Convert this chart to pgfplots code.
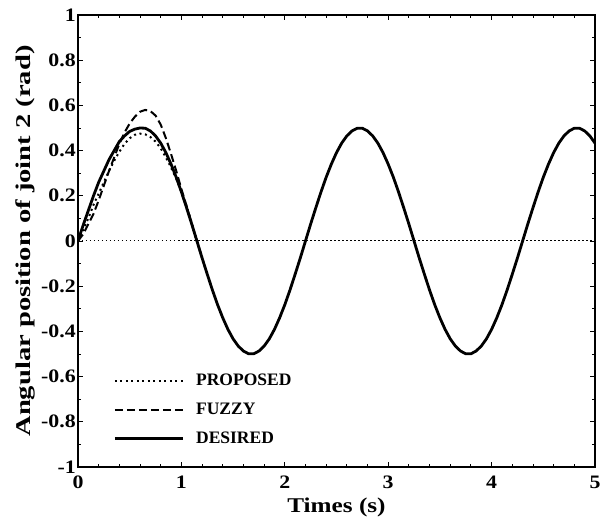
\documentclass[border=0pt]{standalone}
\usepackage{pgfplots}
\pgfplotsset{compat=1.18}
\usepackage{fontspec}
\setmainfont{Liberation Serif}
\newfontfamily\tickfont{Liberation Serif}[FakeStretch=1.15]
\newfontfamily\xlabfont{Liberation Serif}[FakeStretch=1.2]
\newfontfamily\ylabfont{Liberation Serif}[FakeStretch=1.36]

% desired trajectory
\pgfplotstableread{
t y
0.00 0.000
0.05 0.070
0.10 0.135
0.15 0.200
0.20 0.260
0.25 0.310
0.30 0.360
0.35 0.400
0.40 0.440
0.45 0.465
0.50 0.485
0.55 0.495
0.60 0.500
0.65 0.499
0.70 0.487
0.75 0.465
0.80 0.433
0.85 0.391
0.90 0.340
0.95 0.282
1.00 0.217
1.05 0.147
1.10 0.075
1.15 0.000
1.20 -0.075
1.25 -0.147
1.30 -0.217
1.35 -0.282
1.40 -0.340
1.45 -0.391
1.50 -0.433
1.55 -0.465
1.60 -0.487
1.65 -0.499
1.70 -0.499
1.75 -0.487
1.80 -0.465
1.85 -0.433
1.90 -0.391
1.95 -0.340
2.00 -0.282
2.05 -0.217
2.10 -0.147
2.15 -0.075
2.20 0.000
2.25 0.075
2.30 0.147
2.35 0.217
2.40 0.282
2.45 0.340
2.50 0.391
2.55 0.433
2.60 0.465
2.65 0.487
2.70 0.499
2.75 0.499
2.80 0.487
2.85 0.465
2.90 0.433
2.95 0.391
3.00 0.340
3.05 0.282
3.10 0.217
3.15 0.147
3.20 0.075
3.25 0.000
3.30 -0.075
3.35 -0.147
3.40 -0.217
3.45 -0.282
3.50 -0.340
3.55 -0.391
3.60 -0.433
3.65 -0.465
3.70 -0.487
3.75 -0.499
3.80 -0.499
3.85 -0.487
3.90 -0.465
3.95 -0.433
4.00 -0.391
4.05 -0.340
4.10 -0.282
4.15 -0.217
4.20 -0.147
4.25 -0.075
4.30 0.000
4.35 0.075
4.40 0.147
4.45 0.217
4.50 0.282
4.55 0.340
4.60 0.391
4.65 0.433
4.70 0.465
4.75 0.487
4.80 0.499
4.85 0.499
4.90 0.487
4.95 0.465
5.00 0.433
}\desired

% start of the proposed and fuzzy responses; afterwards they follow the desired curve
\pgfplotstableread{
t y
0.00 0.000
0.05 0.050
0.10 0.100
0.15 0.160
0.20 0.210
0.25 0.260
0.30 0.310
0.35 0.355
0.40 0.395
0.45 0.430
0.50 0.455
0.55 0.470
0.60 0.475
0.65 0.472
0.70 0.460
0.75 0.440
0.80 0.410
0.85 0.370
0.90 0.325
0.95 0.275
1.00 0.220
1.05 0.155
1.10 0.080
1.15 0.000
1.20 -0.075
}\proposed

\pgfplotstableread{
t y
0.00 0.000
0.05 0.030
0.10 0.075
0.15 0.120
0.20 0.180
0.25 0.245
0.30 0.310
0.35 0.370
0.40 0.430
0.45 0.480
0.50 0.520
0.55 0.550
0.60 0.572
0.65 0.580
0.70 0.575
0.75 0.555
0.80 0.515
0.85 0.455
0.90 0.385
0.95 0.310
1.00 0.230
1.05 0.155
1.10 0.075
1.15 0.000
1.20 -0.075
}\fuzzy

\begin{document}
\begin{tikzpicture}
\useasboundingbox (-78pt,-58pt) rectangle (524pt,467pt);
\begin{axis}[
  scale only axis,
  width=517pt, height=452pt,
  xmin=0, xmax=5, ymin=-1, ymax=1,
  xtick={0,1,2,3,4,5},
  ytick={-1,-0.8,-0.6,-0.4,-0.2,0,0.2,0.4,0.6,0.8,1},
  minor x tick num=4,
  minor y tick num=1,
  tick align=inside, tick pos=both,
  major tick length=5pt, minor tick length=3pt,
  every tick/.style={black, line width=0.9pt},
  axis line style={line width=1.4pt},
  /pgf/number format/assume math mode=true,
  ticklabel style={font=\tickfont\bfseries\fontsize{19}{19}\selectfont, inner sep=1pt},
  xticklabel style={yshift=-8pt},
  yticklabel style={xshift=-1pt},
  xlabel={Times (s)},
  ylabel={Angular position of joint 2 (rad)},
  xlabel style={font=\xlabfont\bfseries\fontsize{21}{21}\selectfont, yshift=-4pt},
  ylabel style={font=\ylabfont\bfseries\fontsize{21}{21}\selectfont, yshift=2pt},
  legend style={draw=none, fill=none, inner sep=0pt, at={(0.068,0.208)}, anchor=north west,
    font=\bfseries\fontsize{17.5}{17.5}\selectfont, row sep=14pt,
    nodes={inner sep=1pt},
    /tikz/every odd column/.append style={column sep=11pt}},
  legend cell align=left,
  legend image code/.code={\draw[#1] (0pt,0pt) -- (68pt,0pt);},
]
\addplot[forget plot, black, line width=1pt, dash pattern=on 1.5pt off 2.5pt]
  coordinates {(0,0) (5,0)};
\addplot[black, line width=2pt, dash pattern=on 2pt off 3.5pt] table {\proposed};
\addlegendentry{PROPOSED}
\addplot[black, line width=2pt, dash pattern=on 8pt off 4pt] table {\fuzzy};
\addlegendentry{FUZZY}
\addplot[black, line width=2.8pt] table {\desired};
\addlegendentry{DESIRED}
\end{axis}
\end{tikzpicture}
\end{document}
